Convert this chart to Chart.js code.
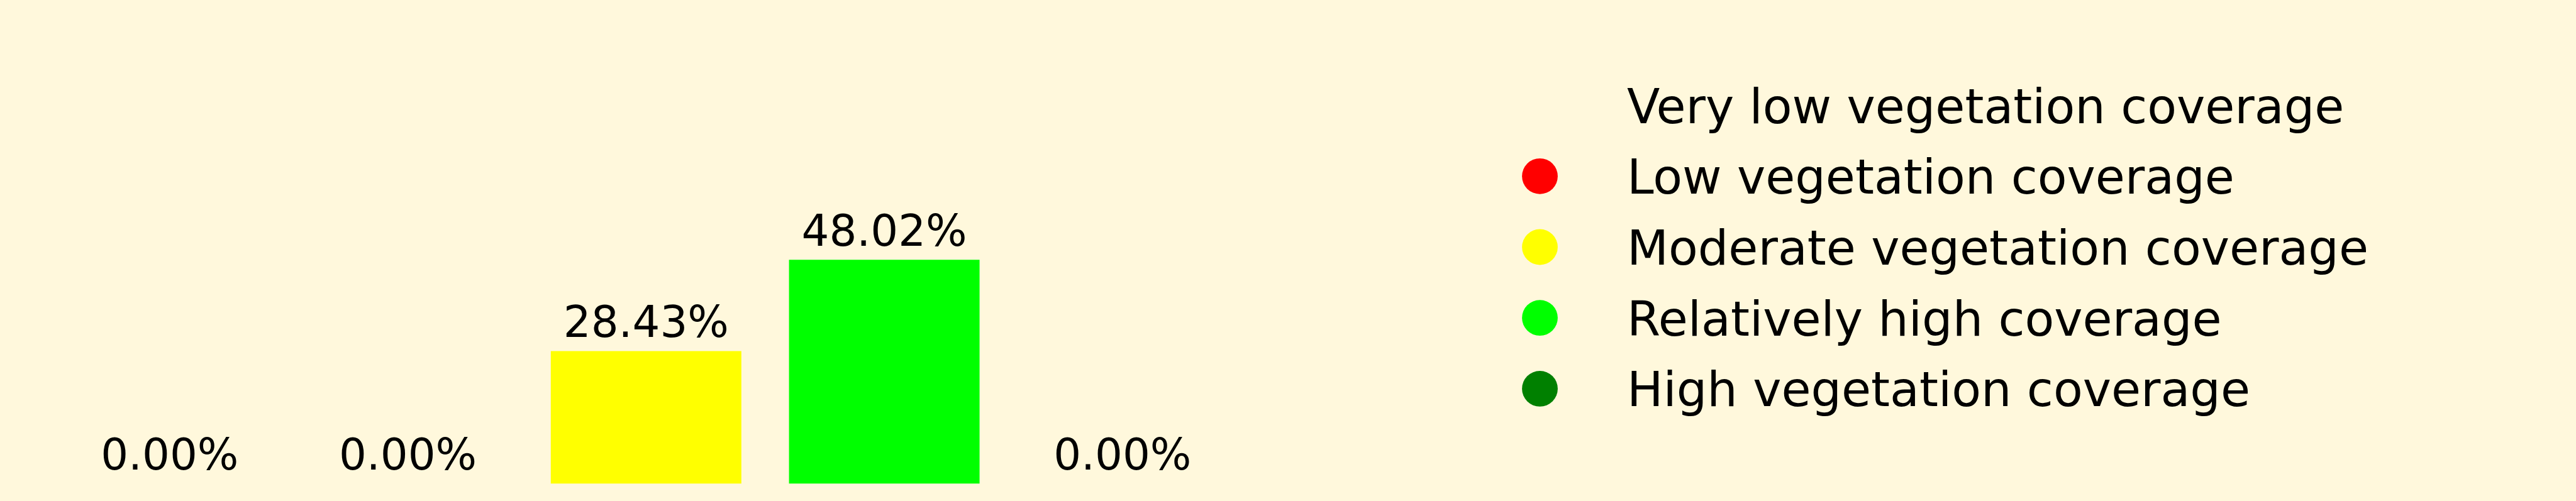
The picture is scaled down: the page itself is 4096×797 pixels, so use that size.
<!DOCTYPE html>
<html>
<head>
<meta charset="utf-8">
<script src="https://cdn.jsdelivr.net/npm/chart.js@4.4.1/dist/chart.umd.min.js"></script>
<style>
  html, body { margin: 0; padding: 0; background: #FFF8DC; }
  #wrap { width: 4096px; height: 797px; }
</style>
</head>
<body>
<div id="wrap"><canvas id="chart"></canvas></div>
<script>
const categories = [
  'Very low vegetation coverage',
  'Low vegetation coverage',
  'Moderate vegetation coverage',
  'Relatively high coverage',
  'High vegetation coverage'
];
const percentages = [0.00, 0.00, 28.43, 48.02, 0.00];
const barColors = ['#FFF8DC', '#FF0000', '#FFFF00', '#00FF00', '#008000'];

const FONT = '"DejaVu Sans", sans-serif';

// value labels above each bar, placed from the bar elements
const valueLabels = {
  id: 'valueLabels',
  afterDatasetsDraw(chart) {
    const ctx = chart.ctx;
    const meta = chart.getDatasetMeta(0);
    ctx.save();
    ctx.font = '69px ' + FONT;
    ctx.fillStyle = '#000';
    ctx.textAlign = 'center';
    ctx.textBaseline = 'alphabetic';
    meta.data.forEach((bar, i) => {
      ctx.fillText(percentages[i].toFixed(2) + '%', bar.x, bar.y - 22);
    });
    ctx.restore();
  }
};

// legend on the right, circles + labels
const sideLegend = {
  id: 'sideLegend',
  afterDraw(chart) {
    const ctx = chart.ctx;
    const ds = chart.data.datasets[0];
    const x0 = 2448.5, textX = 2587, base0 = 195.6, step = 112.7;
    ctx.save();
    ctx.font = '76.5px ' + FONT;
    ctx.textBaseline = 'alphabetic';
    chart.data.labels.forEach((lab, i) => {
      const base = base0 + i * step;
      ctx.fillStyle = ds.backgroundColor[i];
      ctx.beginPath();
      ctx.arc(x0, base - 28, 28.4, 0, Math.PI * 2);
      ctx.fill();
      ctx.fillStyle = '#000';
      ctx.fillText(lab, textX, base);
    });
    ctx.restore();
  }
};

new Chart(document.getElementById('chart'), {
  type: 'bar',
  data: {
    labels: categories,
    datasets: [{
      data: percentages,
      backgroundColor: barColors,
      borderWidth: 0,
      barPercentage: 0.8,
      categoryPercentage: 1.0
    }]
  },
  options: {
    responsive: true,
    maintainAspectRatio: false,
    animation: false,
    layout: { padding: { left: 80.4, right: 4096 - 1974.2, top: 27.5, bottom: 27.6 } },
    scales: {
      x: { display: false, offset: true },
      y: { display: false, min: 0, max: 100 }
    },
    plugins: {
      legend: { display: false },
      tooltip: { enabled: false }
    }
  },
  plugins: [valueLabels, sideLegend]
});
</script>
</body>
</html>
